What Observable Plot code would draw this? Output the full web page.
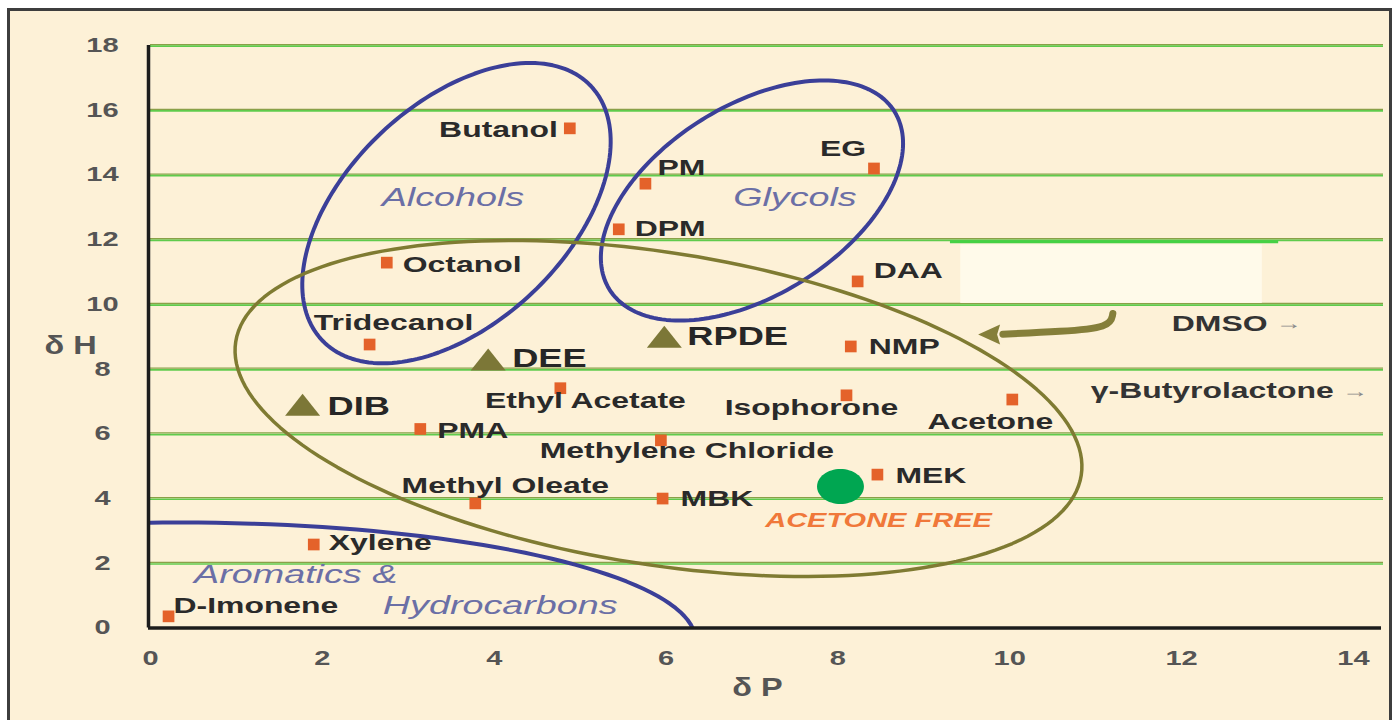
<!DOCTYPE html>
<html><head><meta charset="utf-8">
<script src="https://cdn.jsdelivr.net/npm/d3@7"></script>
<script src="https://cdn.jsdelivr.net/npm/@observablehq/plot@0.6"></script>
<style>
html,body{margin:0;padding:0;background:#fff;}
#wrap{position:relative;width:1397px;height:720px;overflow:hidden;}
#frame{position:absolute;left:7px;top:8px;width:1385px;height:760px;border:3px solid #3d3d3d;background:#fdf1d7;box-sizing:border-box;}
#chart{position:absolute;left:0;top:0;}
</style></head><body><div id="wrap"><div id="frame"></div><div id="chart"></div></div>
<script>
// ---- data (Hansen parameters) ----
const solventNames = ["Butanol","PM","DPM","EG","Octanol","DAA","Tridecanol","NMP","Ethyl Acetate","Isophorone","Acetone","PMA","Methylene Chloride","MEK","MBK","Methyl Oleate","Xylene","D-Imonene"];
const solventDP = [4.88,5.76,5.45,8.42,2.75,8.23,2.55,8.15,4.77,8.10,10.03,3.14,5.94,8.46,5.96,3.78,1.90,0.21];
const solventDH = [15.44,13.73,12.32,14.20,11.29,10.71,8.76,8.70,7.41,7.19,7.06,6.15,5.80,4.74,4.00,3.85,2.58,0.36];
const blendNames = ["DIB","DEE","RPDE"];
const blendDP = [1.77,3.93,5.98];
const blendDH = [6.90,8.30,9.00];
const targetDP = [8.03];
const targetDH = [4.37];
const categoryNames = ["Alcohols","Glycols","Aromatics &","Hydrocarbons"];
const categoryDP = [3.52,7.50,1.69,4.07];
const categoryDH = [13.30,13.30,1.65,0.70];
const noteNames = ["DMSO","γ-Butyrolactone"];
const noteDP = [13.0,13.77];
const noteDH = [9.41,7.31];
const xTicks = [0,2,4,6,8,10,12,14];
const yTicks = [0,2,4,6,8,10,12,14,16,18];

// ---- layout ----
const W = 1397, H = 720, ML = 150, MR = 14, MT = 45, MB = 92.5;
const XMAX = 14.35, YMAX = 18;
const KX = (W - ML - MR) / XMAX, KY = (H - MT - MB) / YMAX;

// label placement (anchor, dx px, dy px)
const labelPlace = {
  "Butanol":["end",-12,2],"PM":["start",12,-16],"DPM":["start",16,0],"EG":["end",-8,-20],
  "Octanol":["start",16,2],"DAA":["start",16,-10],"Tridecanol":["middle",24,-22],"NMP":["start",18,0],
  "Ethyl Acetate":["middle",25,13],"Isophorone":["middle",-35,13],"Acetone":["middle",-22,22],
  "PMA":["start",17,2],"Methylene Chloride":["middle",26,11],"MEK":["start",18,1],"MBK":["start",18,0],
  "Methyl Oleate":["middle",30,-17],"Xylene":["start",15,-2],"D-Imonene":["start",5,-10],
  "DIB":["start",25,2],"DEE":["start",24,0],"RPDE":["start",23,0]
};

const solvents = solventNames.map((name,i)=>({name, dP:solventDP[i], dH:solventDH[i]}));
const blends = blendNames.map((name,i)=>({name, dP:blendDP[i], dH:blendDH[i]}));
const target = targetDP.map((d,i)=>({dP:d, dH:targetDH[i]}));
const categories = categoryNames.map((name,i)=>({name, dP:categoryDP[i], dH:categoryDH[i]}));
const notes = noteNames.map((name,i)=>({name, dP:noteDP[i], dH:noteDH[i]}));

function placed(rows){
  return rows.map(r=>{const [a,dx,dy]=labelPlace[r.name]; return {...r, anchor:a, lx:r.dP+dx/KX, ly:r.dH-dy/KY};});
}
const solventLabels = placed(solvents);
const blendLabels = placed(blends);

// ellipses: center in data, semi-axes in px, rotation deg (ccw)
const ellipses = [
  {name:"Alcohols", cx:3.561, cy:12.82, a:185, b:110, deg:43.4, stroke:"#3b3f98", w:4},
  {name:"Glycols", cx:7.00, cy:13.21, a:168, b:95, deg:32, stroke:"#3b3f98", w:4},
  {name:"Aromatics", cx:0.349, cy:-0.386, a:515, b:118, deg:0, stroke:"#3b3f98", w:4},
  {name:"Blend", cx:5.912, cy:6.783, a:428, b:156, deg:-9, stroke:"#7f7b32", w:3.5}
];
function ellipsePoints(e){
  const t=e.deg*Math.PI/180, pts=[];
  for(let i=0;i<=180;i++){
    const u=2*Math.PI*i/180, ex=e.a*Math.cos(u), ey=e.b*Math.sin(u);
    const px=ex*Math.cos(t)-ey*Math.sin(t), py=ex*Math.sin(t)+ey*Math.cos(t);
    pts.push({x:e.cx+px/KX, y:e.cy+py/KY});
  }
  return pts;
}

const wideTriangle = {draw(ctx,size){const r=Math.sqrt(size/Math.PI);const w=r*1.75,h=r*1.1;ctx.moveTo(0,-h);ctx.lineTo(w,h);ctx.lineTo(-w,h);ctx.closePath();}};
const leftHead = {draw(ctx,size){const r=Math.sqrt(size/Math.PI);ctx.moveTo(-r*1.1,0);ctx.lineTo(r*1.1,-r);ctx.lineTo(r*0.8,0);ctx.lineTo(r*1.1,r);ctx.closePath();}};
const oval = {draw(ctx,size){const r=Math.sqrt(size/Math.PI);const a=r*1.34,b=r,k=0.5523;
  ctx.moveTo(a,0);ctx.bezierCurveTo(a,b*k,a*k,b,0,b);ctx.bezierCurveTo(-a*k,b,-a,b*k,-a,0);
  ctx.bezierCurveTo(-a,-b*k,-a*k,-b,0,-b);ctx.bezierCurveTo(a*k,-b,a,-b*k,a,0);ctx.closePath();}};

const FONT = "'Liberation Sans', Arial, sans-serif";
const labelStyle = {fontFamily:FONT, fontWeight:"bold", fontSize:22, fill:"#2a2a2a"};
const grid = yTicks.filter(d=>d>0);
const OLIVE_ARROW = "#857f3a";

const marks = [
  Plot.ruleY(grid, {stroke:"#8aa048", strokeWidth:1.3, dy:-0.9}),
  Plot.ruleY(grid, {stroke:"#5fcb4c", strokeWidth:1.7, dy:0.7}),
  // erased patch
  Plot.rect([0], {x1:9.43, x2:12.94, y1:10.03, y2:11.84, fill:"#fffaea"}),
  Plot.ruleY([12], {x1:9.31, x2:13.13, stroke:"#45d145", strokeWidth:3, dy:2}),
  // group ellipses
  ...ellipses.map(e=>Plot.line(ellipsePoints(e), {x:"x", y:"y", stroke:e.stroke, strokeWidth:e.w, clip:true})),
  // axis lines
  Plot.ruleX([0], {stroke:"#1c1c1c", strokeWidth:3.5, dx:-2}),
  Plot.ruleY([0], {stroke:"#1c1c1c", strokeWidth:3.5, x1:0, x2:XMAX, dx:-2}),
  Plot.axisX({ticks:xTicks, tickSize:0, tickPadding:23, fontSize:20, fontWeight:"bold", fontFamily:FONT, label:null, fill:"#555"}),
  Plot.axisY({ticks:yTicks, tickSize:0, tickPadding:48, textAnchor:"middle", fontSize:20, fontWeight:"bold", fontFamily:FONT, label:null, fill:"#555"}),
  Plot.text(["δ H"], {frameAnchor:"left", y:[8.73], dx:-106, fontSize:26, fontWeight:"bold", fontFamily:FONT, fill:"#555"}),
  Plot.text(["δ P"], {frameAnchor:"bottom", x:[7.065], dy:67.5, fontSize:26, fontWeight:"bold", fontFamily:FONT, fill:"#555"}),
  // olive arrow toward the blend region
  Plot.line([{x:11.2,y:9.72},{x:11.17,y:9.28},{x:10.6,y:9.16},{x:9.92,y:9.08}], {x:"x", y:"y", stroke:OLIVE_ARROW, strokeWidth:7, strokeLinecap:"round", strokeLinejoin:"round", curve:"basis"}),
  Plot.dot([0], {x:[9.76], y:[9.07], symbol:leftHead, r:10, fill:OLIVE_ARROW}),
  // points
  Plot.dot(solvents, {x:"dP", y:"dH", symbol:"square", r:6.6, fill:"#e4622a"}),
  Plot.dot(blends, {x:"dP", y:"dH", symbol:wideTriangle, r:10, fill:"#7c7737"}),
  Plot.dot(target, {x:"dP", y:"dH", symbol:oval, r:17.5, fill:"#00a651"}),
  // labels
  ...["start","middle","end"].map(a=>Plot.text(solventLabels.filter(d=>d.anchor===a), {x:"lx", y:"ly", text:"name", textAnchor:a, ...labelStyle})),
  Plot.text(blendLabels, {x:"lx", y:"ly", text:"name", textAnchor:"start", fontFamily:FONT, fontWeight:"bold", fontSize:25, fill:"#262626"}),
  Plot.text(categories, {x:"dP", y:"dH", text:"name", fontFamily:FONT, fontStyle:"italic", fontSize:26, fill:"#6b6fa6"}),
  Plot.text(["ACETONE FREE"], {x:[8.473], y:[3.32], fontFamily:FONT, fontStyle:"italic", fontWeight:"bold", fontSize:20, fill:"#f0783a"}),
  Plot.text(notes, {x:"dP", y:"dH", text:"name", textAnchor:"end", ...labelStyle, fill:"#333"}),
  Plot.text(notes, {x:"dP", y:"dH", text:()=>"→", textAnchor:"start", dx:8, fontFamily:FONT, fontSize:18, fill:"#888"})
];

const chart = Plot.plot({
  width:W, height:H, marginLeft:ML, marginRight:MR, marginTop:MT, marginBottom:MB,
  x:{domain:[0,XMAX]}, y:{domain:[0,YMAX]},
  style:{background:"transparent", color:"#555", fontFamily:FONT, overflow:"visible"},
  marks
});
document.getElementById("chart").append(chart);
// the reference lettering is horizontally stretched
chart.querySelectorAll("text").forEach(t=>{
  const s = t.textContent.startsWith("δ") ? 1.25 : 1.45;
  const L = t.getComputedTextLength();
  if (L>0){ t.setAttribute("textLength",(L*s).toFixed(1)); t.setAttribute("lengthAdjust","spacingAndGlyphs"); }
});
</script></body></html>
